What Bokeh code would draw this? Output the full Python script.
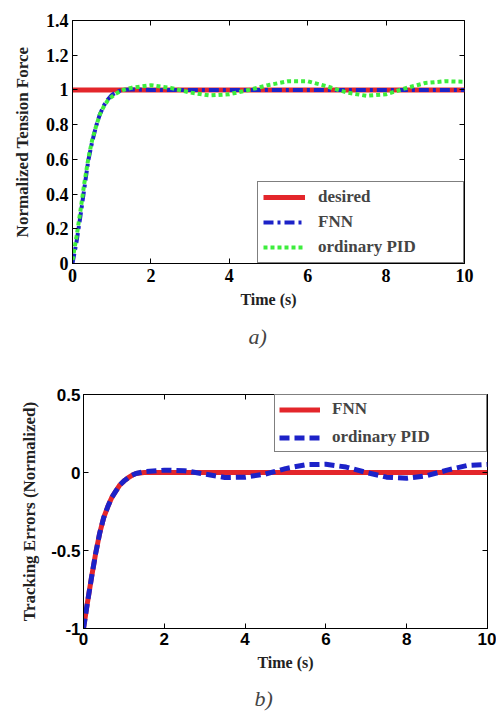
from bokeh.plotting import figure
from bokeh.models import (LinearAxis, FixedTicker, Range1d, Legend, LegendItem,
                          Title, CustomJSTickFormatter)
from bokeh.embed import file_html
from bokeh.resources import INLINE

# ---------------- data ----------------
# (a) normalized tension force
t_a = [0, 10]
desired = [1, 1]

t_fnn = [0, 0.1, 0.2, 0.3, 0.4, 0.5, 0.6, 0.7, 0.8, 0.9, 1.0, 1.1, 1.2, 1.3,
         1.5, 2, 3, 4, 5, 6, 7, 8, 9, 10]
fnn = [0.0, 0.12, 0.27, 0.43, 0.59, 0.70, 0.79, 0.86, 0.91, 0.945, 0.97, 0.985,
       0.995, 1.0, 1.003, 1.0, 1.0, 1.0, 1.0, 1.0, 1.0, 1.0, 1.0, 1.0]

t_pid = [0, 0.1, 0.2, 0.3, 0.4, 0.5, 0.6, 0.7, 0.8, 0.9, 1.0, 1.1, 1.2, 1.3, 1.5,
         2.0, 2.5, 3.0, 3.5, 4.0, 4.5, 5.0, 5.5, 6.0, 6.5, 7.0, 7.5, 8.0, 8.5,
         9.0, 9.5, 10]
pid = [0.02, 0.15, 0.30, 0.46, 0.60, 0.71, 0.79, 0.86, 0.905, 0.94, 0.96, 0.978,
       0.99, 1.0, 1.012, 1.027, 1.012, 0.985, 0.968, 0.975, 1.0, 1.028, 1.05,
       1.05, 1.02, 0.985, 0.966, 0.975, 1.01, 1.04, 1.05, 1.047]

# (b) tracking errors
t_err = [0, 0.1, 0.2, 0.3, 0.4, 0.5, 0.6, 0.7, 0.8, 0.9, 1.0, 1.1, 1.2, 1.3, 1.5,
         2.0, 2.5, 3.0, 3.5, 4.0, 4.5, 5.0, 5.5, 6.0, 6.5, 7.0, 7.5, 8.0, 8.5,
         9.0, 9.5, 10]
err_fnn = [-1.0, -0.83, -0.67, -0.52, -0.39, -0.29, -0.22, -0.16, -0.12, -0.08,
           -0.055, -0.035, -0.018, -0.006, 0, 0, 0, 0, 0, 0, 0, 0, 0, 0, 0, 0,
           0, 0, 0, 0, 0, 0]
err_pid = [-1.0, -0.83, -0.67, -0.52, -0.39, -0.29, -0.22, -0.16, -0.12, -0.08,
           -0.055, -0.035, -0.018, -0.006, 0.005, 0.015, 0.012, -0.01, -0.032,
           -0.03, -0.01, 0.025, 0.05, 0.053, 0.035, 0.0, -0.03, -0.037, -0.02,
           0.015, 0.045, 0.052]

x_ticks = [0, 2, 4, 6, 8, 10]
ya_ticks = [0, 0.2, 0.4, 0.6, 0.8, 1, 1.2, 1.4]
yb_ticks = [-1, -0.5, 0, 0.5]

RED = "#e3262b"
BLUE = "#1c22c8"
GREEN = "#3ded3d"
SERIF = "Liberation Serif"
SANS = "Liberation Sans"

fmt = "return String(Math.round(tick*10)/10)"
empty = "return ''"


def style_axes(p, xt, yt, tick_font, tick_size):
    for ax in p.xaxis + p.yaxis:
        ax.major_tick_in = 5
        ax.major_tick_out = 0
        ax.minor_tick_line_color = None
        ax.axis_line_color = "black"
        ax.major_tick_line_color = "black"
        ax.major_label_text_font = tick_font
        ax.major_label_text_font_style = "bold"
        ax.major_label_text_font_size = tick_size
        ax.major_label_text_color = "black"
        ax.axis_label_text_font = SERIF
        ax.axis_label_text_font_style = "bold"
        ax.axis_label_text_color = "#222222"
        ax.formatter = CustomJSTickFormatter(code=fmt)
    p.xaxis.ticker = FixedTicker(ticks=xt)
    p.yaxis.ticker = FixedTicker(ticks=yt)
    r = LinearAxis(ticker=FixedTicker(ticks=yt), formatter=CustomJSTickFormatter(code=empty),
                   major_tick_in=5, major_tick_out=0, minor_tick_line_color=None,
                   axis_line_color=None, major_label_standoff=0,
                   major_label_text_font_size="1px")
    a = LinearAxis(ticker=FixedTicker(ticks=xt), formatter=CustomJSTickFormatter(code=empty),
                   major_tick_in=5, major_tick_out=0, minor_tick_line_color=None,
                   axis_line_color=None, major_label_standoff=0,
                   major_label_text_font_size="1px")
    p.add_layout(r, "right")
    p.add_layout(a, "above")
    p.xgrid.visible = False
    p.ygrid.visible = False
    p.outline_line_color = "black"
    p.outline_line_alpha = 1


# ---------------- figure a ----------------
p1 = figure(width=496, height=360, output_backend="svg", toolbar_location=None,
            x_range=Range1d(0, 10), y_range=Range1d(0, 1.4),
            min_border_left=72, min_border_right=32, min_border_top=20,
            min_border_bottom=97)
p1.xaxis.axis_label = "Time (s)"
p1.yaxis.axis_label = "Normalized Tension Force"
style_axes(p1, x_ticks, ya_ticks, SERIF, "18px")
p1.xaxis.axis_label_text_font_size = "16px"
p1.yaxis.axis_label_text_font_size = "17px"
p1.xaxis.major_label_standoff = 5
p1.xaxis.axis_label_standoff = 6
p1.yaxis.major_label_standoff = 4
p1.yaxis.axis_label_standoff = 11

r_des = p1.line(t_a, desired, line_color=RED, line_width=5)
r_fnn = p1.line(t_fnn, fnn, line_color=BLUE, line_width=4, line_dash="10 4 3 4")
r_pid = p1.line(t_pid, pid, line_color=GREEN, line_width=4, line_dash="4 3")

leg1 = Legend(items=[LegendItem(label="desired", renderers=[r_des]),
                     LegendItem(label="FNN", renderers=[r_fnn]),
                     LegendItem(label="ordinary PID", renderers=[r_pid])],
              location="bottom_right", margin=0, padding=5, spacing=5,
              label_height=20, glyph_height=20, glyph_width=42, label_standoff=13,
              label_width=140, border_line_color="black", border_line_width=1,
              label_text_font=SERIF, label_text_font_style="bold",
              label_text_font_size="17px", background_fill_alpha=1)
p1.add_layout(leg1, "center")

cap1 = Title(text="a)", align="left", offset=176, text_font=SERIF,
             text_font_style="italic", text_font_size="22px", standoff=22)
p1.add_layout(cap1, "below")

# ---------------- figure b ----------------
p2 = figure(width=496, height=360, output_backend="svg", toolbar_location=None,
            x_range=Range1d(0, 10), y_range=Range1d(-1, 0.5),
            min_border_left=83, min_border_right=9, min_border_top=34,
            min_border_bottom=91)
p2.xaxis.axis_label = "Time (s)"
p2.yaxis.axis_label = "Tracking Errors (Normalized)"
style_axes(p2, x_ticks, yb_ticks, SANS, "17px")
p2.xaxis.axis_label_text_font_size = "16px"
p2.yaxis.axis_label_text_font_size = "17px"
p2.xaxis.major_label_standoff = 4
p2.xaxis.axis_label_standoff = 6
p2.yaxis.major_label_standoff = 3
p2.yaxis.axis_label_standoff = 9

e_fnn = p2.line(t_err, err_fnn, line_color=RED, line_width=5)
e_pid = p2.line(t_err, err_pid, line_color=BLUE, line_width=5, line_dash="10 5")

leg2 = Legend(items=[LegendItem(label="FNN", renderers=[e_fnn]),
                     LegendItem(label="ordinary PID", renderers=[e_pid])],
              location="top_right", margin=0, padding=4, spacing=8,
              label_height=19, glyph_height=19, glyph_width=41, label_standoff=12,
              label_width=150, border_line_color="black", border_line_width=1,
              label_text_font=SERIF, label_text_font_style="bold",
              label_text_font_size="17px", background_fill_alpha=1)
p2.add_layout(leg2, "center")

cap2 = Title(text="b)", align="left", offset=171, text_font=SERIF,
             text_font_style="italic", text_font_size="22px", standoff=20)
p2.add_layout(cap2, "below")

open("out.html", "w").write(file_html([p1, p2], INLINE))
